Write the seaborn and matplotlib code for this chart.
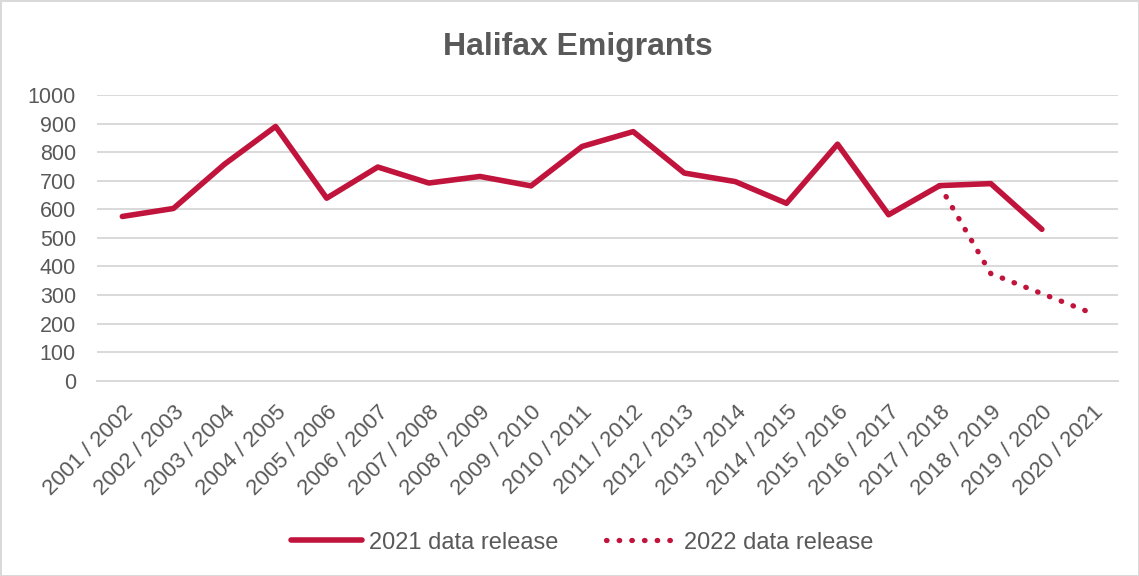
import numpy as np
import pandas as pd
import matplotlib.pyplot as plt
import seaborn as sns

# Halifax emigrants by year, two data releases
years = ['2001 / 2002', '2002 / 2003', '2003 / 2004', '2004 / 2005', '2005 / 2006',
         '2006 / 2007', '2007 / 2008', '2008 / 2009', '2009 / 2010', '2010 / 2011',
         '2011 / 2012', '2012 / 2013', '2013 / 2014', '2014 / 2015', '2015 / 2016',
         '2016 / 2017', '2017 / 2018', '2018 / 2019', '2019 / 2020', '2020 / 2021']
release_2021 = [575, 603, 758, 890, 639, 748, 692, 715, 682, 820,
                872, 727, 697, 621, 828, 581, 683, 690, 530, np.nan]
release_2022 = [np.nan] * 16 + [683, 375, 305, 235]

red = '#C0143C'
grey_text = '#595959'

sns.set_style('white')
plt.rcParams['font.family'] = ['Liberation Sans', 'DejaVu Sans']

df = pd.DataFrame({'year': years, 'r2021': release_2021, 'r2022': release_2022})

fig = plt.figure(figsize=(11.39, 5.76), dpi=100)
ax = fig.add_axes([0.085, 0.339, 0.897, 0.496])

sns.lineplot(data=df, x='year', y='r2021', ax=ax, color=red, linewidth=4,
             sort=False, label='2021 data release', solid_capstyle='round')
sns.lineplot(data=df, x='year', y='r2022', ax=ax, color=red, linewidth=3.8,
             sort=False, label='2022 data release', linestyle=(0, (0.1, 2.3)),
             dash_capstyle='round')

ax.set_xlim(-0.5, len(years) - 0.5)
ax.set_ylim(0, 1000)
ax.set_yticks(range(0, 1001, 100))
ax.yaxis.grid(True, color='#d9d9d9', linewidth=1.4)
ax.xaxis.grid(False)
for side in ['top', 'right', 'left']:
    ax.spines[side].set_visible(False)
ax.spines['bottom'].set_color('#d9d9d9')
ax.spines['bottom'].set_linewidth(1.4)
ax.set_xlabel('')
ax.set_ylabel('')
ax.tick_params(axis='y', colors=grey_text, labelsize=15.5, length=0, pad=15)
ax.tick_params(axis='x', colors=grey_text, labelsize=16, length=0, pad=15)
plt.setp(ax.get_xticklabels(), rotation=45, ha='right', rotation_mode='anchor')

fig.text(0.507, 0.919, 'Halifax Emigrants', fontsize=23, fontweight='bold',
         color=grey_text, ha='center', va='center')

ax.get_legend().remove()
handles, labels = ax.get_legend_handles_labels()
fig.legend(handles, labels, loc='center', bbox_to_anchor=(0.511, 0.058), ncol=2,
           frameon=False, fontsize=17, handlelength=3.0, handletextpad=0.3,
           columnspacing=2, labelcolor=grey_text)

fig.patch.set_edgecolor('#d9d9d9')
fig.patch.set_linewidth(2)

fig.savefig('out.png', dpi=100, edgecolor=fig.get_edgecolor())
